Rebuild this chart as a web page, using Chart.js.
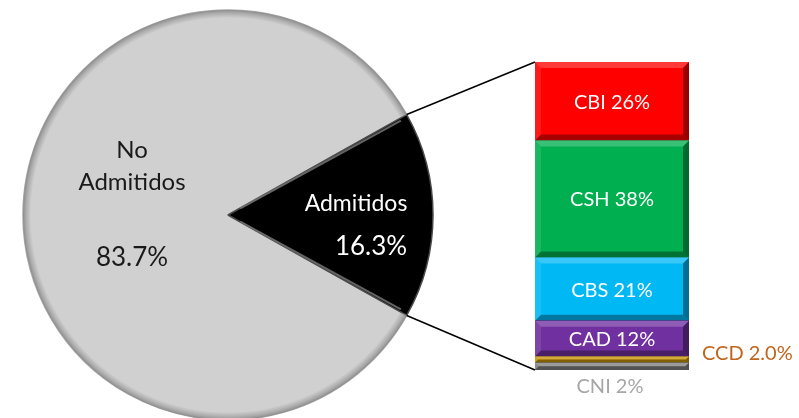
<!DOCTYPE html>
<html>
<head>
<meta charset="utf-8">
<script src="https://cdn.jsdelivr.net/npm/chart.js@4.4.1/dist/chart.umd.min.js"></script>
<style>
  body { margin:0; background:#fff; }
  #wrap { position:relative; width:799px; height:418px; overflow:hidden; }
  #wrap canvas { position:absolute; left:0; top:0; }
</style>
</head>
<body>
<div id="wrap">
  <canvas id="pie_chart" width="799" height="418"></canvas>
  <canvas id="bar_chart" width="799" height="418"></canvas>
</div>
<script>
const pieLabels = ["No Admitidos", "Admitidos"];
const pieValues = [83.7, 16.3];
const pieColors = ["#d0d0d0", "#000000"];

// de arriba hacia abajo, como se ve en la barra
const barLabels = ["CBI", "CSH", "CBS", "CAD", "CCD", "CNI"];
const barValues = [25.6, 38.2, 20.6, 11.7, 2.0, 2.4];
const barColors = ["#ff0000", "#00b050", "#00b8f4", "#7030a0", "#c89400", "#7f7f7f"];

const FONT = "Lato, 'Open Sans', sans-serif";

function sum(arr) {
    let s = 0;
    for (let i = 0; i < arr.length; i++) s += arr[i];
    return s;
}

// la porcion "Admitidos" queda centrada a la derecha (0 grados)
const pieTotal = sum(pieValues);
const pieRotation = 90 - pieValues[0] / pieTotal * 360 - pieValues[1] / pieTotal * 180;

const pieDecor = {
    id: "pieDecor",
    afterDatasetsDraw(chart) {
        const ctx = chart.ctx;
        const grey = chart.getDatasetMeta(0).data[0];
        const black = chart.getDatasetMeta(0).data[1];
        const r = grey.outerRadius;
        // bisel del borde exterior
        ctx.save();
        const g = ctx.createRadialGradient(grey.x, grey.y, r - 8, grey.x, grey.y, r);
        g.addColorStop(0, "rgba(150,150,150,0)");
        g.addColorStop(0.6, "rgba(150,150,150,0.6)");
        g.addColorStop(1, "#8e8e8e");
        ctx.beginPath();
        ctx.arc(grey.x, grey.y, r - 4, grey.startAngle, grey.endAngle);
        ctx.lineWidth = 8;
        ctx.strokeStyle = g;
        ctx.stroke();

        // bisel de los lados de la porcion negra
        ctx.strokeStyle = "rgba(110,110,110,0.9)";
        ctx.lineWidth = 2;
        [black.startAngle + 0.012, black.endAngle - 0.012].forEach(function(a) {
            ctx.beginPath();
            ctx.moveTo(black.x + 14 * Math.cos(a), black.y + 14 * Math.sin(a));
            ctx.lineTo(black.x + (r - 8) * Math.cos(a), black.y + (r - 8) * Math.sin(a));
            ctx.stroke();
        });
        ctx.restore();

        // textos
        ctx.save();
        ctx.textAlign = "center";
        ctx.textBaseline = "alphabetic";
        ctx.fillStyle = "#1a1a1a";
        ctx.font = "24px " + FONT;
        ctx.fillText("No", grey.x - 96, grey.y - 57);
        ctx.fillText("Admitidos", grey.x - 96, grey.y - 25);
        ctx.font = "26px " + FONT;
        ctx.fillText(pieValues[0].toFixed(1) + "%", grey.x - 96, grey.y + 51);

        ctx.fillStyle = "#ffffff";
        ctx.font = "23px " + FONT;
        ctx.fillText(pieLabels[1], grey.x + 128, grey.y - 4);
        ctx.font = "26px " + FONT;
        ctx.fillText(pieValues[1].toFixed(1) + "%", grey.x + 143, grey.y + 40);
        ctx.restore();
    }
};

let pieChart = new Chart(document.getElementById("pie_chart"), {
    type: "pie",
    data: {
        labels: pieLabels,
        datasets: [{
            data: pieValues,
            backgroundColor: pieColors,
            borderColor: ["#a8a8a8", "#4a4a4a"],
            borderWidth: 1.5
        }]
    },
    options: {
        responsive: false,
        animation: false,
        rotation: pieRotation,
        radius: 205,
        layout: { padding: { left: 0, right: 343, top: 12, bottom: 0 } },
        plugins: { legend: { display: false }, tooltip: { enabled: false } }
    },
    plugins: [pieDecor]
});

const barDecor = {
    id: "barDecor",
    afterDatasetsDraw(chart) {
        const ctx = chart.ctx;
        // lineas de conexion con la porcion
        const arc = pieChart.getDatasetMeta(0).data[1];
        const r = arc.outerRadius;
        const first = chart.getDatasetMeta(0).data[0];
        const last = chart.getDatasetMeta(chart.data.datasets.length - 1).data[0];
        const left = first.x - first.width / 2;
        ctx.save();
        ctx.strokeStyle = "#000";
        ctx.lineWidth = 1.5;
        ctx.beginPath();
        ctx.moveTo(arc.x + r * Math.cos(arc.startAngle), arc.y + r * Math.sin(arc.startAngle));
        ctx.lineTo(left, Math.min(last.y, last.base));
        ctx.moveTo(arc.x + r * Math.cos(arc.endAngle), arc.y + r * Math.sin(arc.endAngle));
        ctx.lineTo(left, Math.max(first.y, first.base));
        ctx.stroke();
        ctx.restore();

        // bisel de cada segmento
        chart.data.datasets.forEach(function(ds, i) {
            const bar = chart.getDatasetMeta(i).data[0];
            const x0 = bar.x - bar.width / 2, x1 = bar.x + bar.width / 2;
            const y0 = Math.min(bar.y, bar.base), y1 = Math.max(bar.y, bar.base);
            const b = Math.min(6, (y1 - y0) / 2);
            ctx.save();
            ctx.fillStyle = "rgba(255,255,255,0.22)";
            ctx.beginPath();
            ctx.moveTo(x0, y0); ctx.lineTo(x1, y0); ctx.lineTo(x1 - b, y0 + b); ctx.lineTo(x0 + b, y0 + b);
            ctx.fill();
            ctx.fillStyle = "rgba(255,255,255,0.1)";
            ctx.beginPath();
            ctx.moveTo(x0, y0); ctx.lineTo(x0 + b, y0 + b); ctx.lineTo(x0 + b, y1 - b); ctx.lineTo(x0, y1);
            ctx.fill();
            ctx.fillStyle = "rgba(0,0,0,0.35)";
            ctx.beginPath();
            ctx.moveTo(x0, y1); ctx.lineTo(x1, y1); ctx.lineTo(x1 - b, y1 - b); ctx.lineTo(x0 + b, y1 - b);
            ctx.fill();
            ctx.fillStyle = "rgba(0,0,0,0.4)";
            ctx.beginPath();
            ctx.moveTo(x1, y0); ctx.lineTo(x1, y1); ctx.lineTo(x1 - b, y1 - b); ctx.lineTo(x1 - b, y0 + b);
            ctx.fill();
            ctx.restore();
        });
    },
    afterDraw(chart) {
        const ctx = chart.ctx;
        ctx.save();
        ctx.font = "20px " + FONT;
        ctx.textBaseline = "middle";
        chart.data.datasets.forEach(function(ds, i) {
            const bar = chart.getDatasetMeta(i).data[0];
            const yc = (bar.y + bar.base) / 2;
            const name = ds.label;
            if (name == "CCD") {
                ctx.textAlign = "left";
                ctx.fillStyle = "#c0651c";
                ctx.fillText(name + " " + ds.data[0].toFixed(1) + "%", bar.x + bar.width / 2 + 13, yc - 6);
            } else if (name == "CNI") {
                ctx.textAlign = "center";
                ctx.fillStyle = "#a6a6a6";
                ctx.fillText(name + " " + ds.data[0].toFixed(0) + "%", bar.x - 2, bar.base + 17);
            } else {
                ctx.textAlign = "center";
                ctx.fillStyle = "#ffffff";
                ctx.fillText(name + " " + ds.data[0].toFixed(0) + "%", bar.x, yc + 1);
            }
        });
        ctx.restore();
    }
};

// la pila se dibuja desde abajo: invertir el orden
let barSets = new Array();
for (let i = barLabels.length - 1; i >= 0; i--) {
    barSets.push({
        label: barLabels[i],
        data: [barValues[i]],
        backgroundColor: barColors[i],
        borderWidth: 0,
        barPercentage: 1,
        categoryPercentage: 1
    });
}

let barChart = new Chart(document.getElementById("bar_chart"), {
    type: "bar",
    data: { labels: ["Admitidos"], datasets: barSets },
    options: {
        responsive: false,
        animation: false,
        layout: { padding: { left: 535, right: 110, top: 62, bottom: 48 } },
        scales: {
            x: { stacked: true, display: false },
            y: { stacked: true, display: false, min: 0, max: sum(barValues) }
        },
        plugins: { legend: { display: false }, tooltip: { enabled: false } }
    },
    plugins: [barDecor]
});
</script>
</body>
</html>
